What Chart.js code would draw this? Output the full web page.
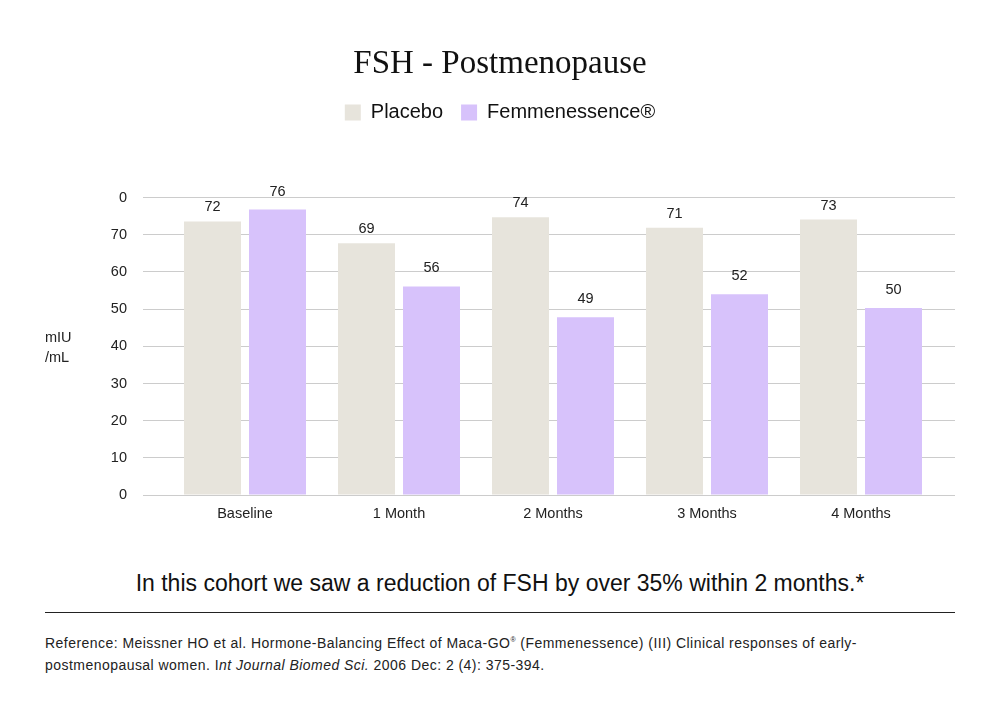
<!DOCTYPE html>
<html>
<head>
<meta charset="utf-8">
<script src="https://cdn.jsdelivr.net/npm/chart.js@4.4.1/dist/chart.umd.min.js"></script>
<style>
  html, body { margin: 0; padding: 0; background: #fff; }
  body { width: 1000px; height: 716px; position: relative; overflow: hidden; font-family: "Liberation Sans", Arial, sans-serif; color: #1a1a1a; }
  #wrap { position: absolute; left: 0; top: 0; width: 1000px; height: 560px; }
  .unit { position: absolute; left: 45px; top: 327px; font-size: 14.5px; line-height: 20px; color: #222; }
  .note { position: absolute; left: 0; width: 1000px; top: 569px; text-align: center; font-size: 23px; line-height: 28px; color: #111; }
  .rule { position: absolute; left: 45px; width: 910px; top: 612px; height: 1px; background: #222; }
  .ref { position: absolute; left: 45px; top: 629px; font-size: 14px; line-height: 22px; letter-spacing: 0.46px; color: #222; }
  .ref sup { font-size: 7px; vertical-align: 6px; }
</style>
</head>
<body>
<div id="wrap"><canvas id="fshChart" width="1000" height="560"></canvas></div>
<div class="unit">mIU<br>/mL</div>
<div class="note">In this cohort we saw a reduction of FSH by over 35% within 2 months.*</div>
<div class="rule"></div>
<div class="ref">Reference: Meissner HO et al. Hormone-Balancing Effect of Maca-GO<sup>®</sup> (Femmenessence) (III) Clinical responses of early-<br>postmenopausal women. I<i>nt Journal Biomed Sci.</i> 2006 Dec: 2 (4): 375-394.</div>
<script>
const categories = ['Baseline', '1 Month', '2 Months', '3 Months', '4 Months'];
const placeboValues = [73.6, 67.7, 74.7, 71.9, 74.1];
const femmeValues = [76.8, 56.1, 47.8, 54.0, 50.3];
const placeboLabels = ['72', '69', '74', '71', '73'];
const femmeLabels = ['76', '56', '49', '52', '50'];
const yTickLabels = ['0', '10', '20', '30', '40', '50', '60', '70', '0'];

// writes the printed value above each bar
const barLabels = {
    id: 'barLabels',
    afterDatasetsDraw(chart) {
        const ctx = chart.ctx;
        ctx.save();
        ctx.font = '14.5px "Liberation Sans", Arial, sans-serif';
        ctx.fillStyle = '#222';
        ctx.textAlign = 'center';
        ctx.textBaseline = 'middle';
        chart.data.datasets.forEach((ds, d) => {
            chart.getDatasetMeta(d).data.forEach((bar, i) => {
                ctx.fillText(ds.printed[i], bar.x, bar.y - ds.labelGap);
            });
        });
        ctx.restore();
    }
};

const ctx = document.getElementById('fshChart').getContext('2d');

new Chart(ctx, {
    type: 'bar',
    data: {
        labels: categories,
        datasets: [{
            label: 'Placebo',
            data: placeboValues,
            printed: placeboLabels,
            labelGap: 14,
            backgroundColor: '#e7e4dc',
            borderWidth: 0,
            barPercentage: 0.877,
            categoryPercentage: 0.844
        }, {
            label: 'Femmenessence®',
            data: femmeValues,
            printed: femmeLabels,
            labelGap: 18,
            backgroundColor: '#d7c2fb',
            borderWidth: 0,
            barPercentage: 0.877,
            categoryPercentage: 0.844
        }]
    },
    options: {
        responsive: false,
        animation: false,
        layout: {
            padding: { top: 0, left: 0, right: 0, bottom: 27.5 }
        },
        plugins: {
            title: {
                display: true,
                text: 'FSH - Postmenopause',
                color: '#111',
                font: { family: '"Liberation Serif", serif', size: 33, weight: 'normal' },
                padding: { top: 45, bottom: 0 }
            },
            legend: {
                position: 'top',
                labels: {
                    boxWidth: 16,
                    boxHeight: 16,
                    padding: 18,
                    color: '#111',
                    font: { family: '"Liberation Sans", Arial, sans-serif', size: 20 }
                }
            },
            subtitle: {
                display: true,
                text: '',
                weight: 500,
                font: { size: 10 },
                padding: { top: 0, bottom: 53 }
            },
            tooltip: { enabled: false }
        },
        scales: {
            x: {
                grid: { display: false, drawTicks: false },
                border: { display: false },
                ticks: {
                    padding: 10,
                    color: '#222',
                    font: { family: '"Liberation Sans", Arial, sans-serif', size: 14.5 }
                }
            },
            y: {
                min: 0,
                max: 80,
                afterFit(scale) { scale.width = 168; },
                grid: { color: '#cccccc', lineWidth: 1, tickLength: 25 },
                border: { display: false },
                ticks: {
                    stepSize: 10,
                    padding: 16,
                    color: '#222',
                    font: { family: '"Liberation Sans", Arial, sans-serif', size: 14.5 },
                    callback: (v, i) => yTickLabels[i]
                }
            },
            y2: {
                type: 'linear',
                position: 'right',
                min: 0,
                max: 80,
                afterFit(scale) { scale.width = 62; },
                grid: { color: '#cccccc', lineWidth: 1, tickLength: 17, drawOnChartArea: false },
                border: { display: false },
                ticks: { stepSize: 10, display: false }
            }
        }
    },
    plugins: [barLabels]
});
</script>
</body>
</html>
